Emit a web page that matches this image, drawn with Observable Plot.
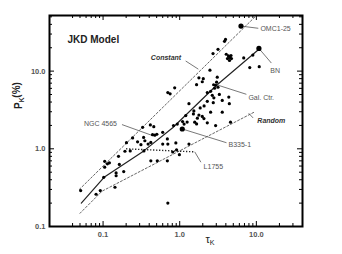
<!DOCTYPE html>
<html><head><meta charset="utf-8">
<script src="https://cdn.jsdelivr.net/npm/d3@7"></script>
<script src="https://cdn.jsdelivr.net/npm/@observablehq/plot@0.6"></script>
<style>body{margin:0;background:#fff;}</style>
</head><body><div id="chart"></div>
<script>
// Observed sources: optical depth tau_K and polarization P_K (%)
const tauValues = [0.051,0.081,0.092,0.143,0.102,0.148,0.148,0.105,0.114,0.105,0.121,0.163,0.159,0.186,0.193,0.202,0.243,0.282,0.328,0.338,0.351,0.312,0.387,0.414,0.459,0.442,0.473,0.503,0.42,0.341,0.42,0.51,0.60,0.60,0.70,0.69,0.69,0.70,0.83,0.93,0.89,0.81,0.91,0.99,1.09,1.25,1.20,1.32,1.32,1.14,0.70,0.75,0.86,0.226,
1.53,1.51,1.78,1.97,2.07,1.70,1.57,1.66,2.29,1.85,2.08,2.74,2.29,2.79,3.59,4.37,4.44,3.29,2.66,2.29,2.53,
2.94,3.03,2.85,3.16,2.77,
3.09,2.48,2.03,1.78,1.97,1.66,3.59,2.53,4.6,2.94,
3.96,3.84,3.16,2.72,4.05,
4.50,4.33,4.73,4.46,4.20,4.67,
6.84,9.0,8.2,10.9];
const pValues = [0.29,0.26,0.29,0.32,0.43,0.49,0.45,0.69,0.64,0.58,0.66,0.63,0.80,0.51,0.93,1.2,1.38,1.23,1.89,1.40,1.27,1.13,1.15,2.03,1.93,1.52,1.50,1.54,1.21,0.94,0.70,0.70,1.63,1.15,1.15,1.34,0.70,0.20,1.99,2.08,1.19,0.91,0.97,0.84,2.24,2.21,2.68,3.81,1.15,2.08,5.3,5.1,6.1,0.94,
3.07,2.81,2.72,2.61,2.45,2.48,2.20,2.09,2.16,3.36,3.56,3.92,4.08,4.53,4.20,4.64,3.81,5.02,4.88,5.29,5.50,
6.58,7.2,6.02,6.2,6.68,
8.36,10.3,8.0,8.2,7.3,6.7,2.96,2.96,2.2,1.99,
25.6,24.2,19.1,16.8,16.5,
15.0,15.7,14.5,13.7,14.5,15.9,
14.8,16.1,11.1,11.4];

// Named (highlighted) sources
const namedTau = [6.3, 10.8, 1.08];
const namedP = [38, 19.6, 1.80];

// JKD model curve
const modelTau = [0.052, 0.103, 0.34, 0.81, 3.03, 10.9];
const modelP = [0.20, 0.43, 0.94, 1.87, 6.58, 19.3];
// Constant-field limit
const constTau = [0.049, 10.0];
const constP = [0.30, 52];
// Random-field limit
const randTau = [0.050, 0.097, 9.7];
const randP = [0.148, 0.285, 3.02];
// L1755
const l1755Tau = [0.2, 1.57];
const l1755P = [1.0, 0.914];

// Annotation labels
const labelText = ["OMC1-25", "BN", "Gal. Ctr.", "B335-1", "L1755"];
const labelTau = [11.3, 15.2, 7.87, 4.33, 2.05];
const labelP = [35.1, 10.0, 4.6, 1.137, 0.589];
const italicText = ["Constant", "Random"];
const italicTau = [0.42, 10.3];
const italicP = [15.0, 2.28];
const endText = ["NGC 4565"];
const endTau = [0.152];
const endP = [2.09];
// Leader lines
const leadTau1 = [6.3, 10.8, 3.0, 7.94, 1.196, 0.1765, 1.08, 1.57];
const leadP1 = [38, 19.6, 6.7, 2.87, 13.5, 2.05, 1.80, 0.914];
const leadTau2 = [10.6, 15.7, 7.41, 9.06, 1.75, 0.446, 4.08, 1.89];
const leadP2 = [35.6, 12.7, 5.03, 2.50, 10.6, 1.475, 1.197, 0.672];

// Ticks
const tauMajor = [0.1, 1, 10];
const tauMinor = [0.04,0.05,0.06,0.07,0.08,0.09,0.2,0.3,0.4,0.5,0.6,0.7,0.8,0.9,2,3,4,5,6,7,8,9,20,30];
const pMajor = [0.1, 1, 10];
const pMinor = [0.2,0.3,0.4,0.5,0.6,0.7,0.8,0.9,2,3,4,5,6,7,8,9,20,30,40,50];

const W = 342, H = 254, mL = 49, mR = 40, mT = 15, mB = 28;
const fW = W - mL - mR, fH = H - mT - mB;

const dots = tauValues.map((t, i) => ({tau: t, p: pValues[i]}));
const named = namedTau.map((t, i) => ({tau: t, p: namedP[i]}));
const line = (ts, ps) => ts.map((t, i) => ({tau: t, p: ps[i]}));
const labels = labelText.map((s, i) => ({s, tau: labelTau[i], p: labelP[i]}));
const italics = italicText.map((s, i) => ({s, tau: italicTau[i], p: italicP[i]}));
const ends = endText.map((s, i) => ({s, tau: endTau[i], p: endP[i]}));
const leads = leadTau1.map((t, i) => ({x1: t, y1: leadP1[i], x2: leadTau2[i], y2: leadP2[i]}));

const font = "Liberation Sans, Arial, Helvetica, sans-serif";

const svg = Plot.plot({
  width: W, height: H,
  marginLeft: mL, marginRight: mR, marginTop: mT, marginBottom: mB,
  style: {fontFamily: font, background: "#fff", overflow: "visible"},
  x: {type: "log", domain: [0.02, 40]},
  y: {type: "log", domain: [0.1, 52]},
  marks: [
    Plot.axisX(tauMajor, {tickSize: 0, tickPadding: 5, tickFormat: d3.format(".1f"), fontSize: 7.5, fontWeight: "bold", color: "#555", label: null}),
    Plot.axisY(pMajor, {tickSize: 0, tickPadding: 4, tickFormat: d3.format(".1f"), fontSize: 7.5, fontWeight: "bold", color: "#555", label: null}),
    // inward ticks
    Plot.tickX(tauMajor, {x: d => d, insetTop: fH - 5, stroke: "#000"}),
    Plot.tickX(tauMinor, {x: d => d, insetTop: fH - 3, stroke: "#000"}),
    Plot.tickX(tauMajor, {x: d => d, insetBottom: fH - 5, stroke: "#000"}),
    Plot.tickX(tauMinor, {x: d => d, insetBottom: fH - 3, stroke: "#000"}),
    Plot.tickY(pMajor, {y: d => d, insetRight: fW - 5, stroke: "#000"}),
    Plot.tickY(pMinor, {y: d => d, insetRight: fW - 3, stroke: "#000"}),
    Plot.tickY(pMajor, {y: d => d, insetLeft: fW - 5, stroke: "#000"}),
    Plot.tickY(pMinor, {y: d => d, insetLeft: fW - 3, stroke: "#000"}),
    // model lines
    Plot.line(line(constTau, constP), {x: "tau", y: "p", stroke: "#555", strokeWidth: 0.9, strokeDasharray: "2,2"}),
    Plot.line(line(randTau, randP), {x: "tau", y: "p", stroke: "#555", strokeWidth: 0.9, strokeDasharray: "2,2"}),
    Plot.line(line(modelTau, modelP), {x: "tau", y: "p", stroke: "#222", strokeWidth: 1.2}),
    Plot.line(line(l1755Tau, l1755P), {x: "tau", y: "p", stroke: "#111", strokeWidth: 1.4, strokeDasharray: "1.2,1.8", strokeLinecap: "butt"}),
    // leader lines
    Plot.link(leads, {x1: "x1", y1: "y1", x2: "x2", y2: "y2", stroke: "#555", strokeWidth: 0.8}),
    // data points
    Plot.dot(dots, {x: "tau", y: "p", r: 1.6, fill: "#000"}),
    Plot.dot(named, {x: "tau", y: "p", r: 2.6, fill: "#000"}),
    // labels
    Plot.text(labels, {x: "tau", y: "p", text: "s", textAnchor: "start", fontSize: 7, fill: "#555"}),
    Plot.text(ends, {x: "tau", y: "p", text: "s", textAnchor: "end", fontSize: 7, fill: "#555"}),
    Plot.text(italics, {x: "tau", y: "p", text: "s", textAnchor: "start", fontSize: 7, fontWeight: "bold", fontStyle: "italic", fill: "#333"}),
    Plot.text(["JKD Model"], {frameAnchor: "top-left", dx: 18, dy: 20.5, textAnchor: "start", fontSize: 10, fontWeight: "bold", fill: "#222"}),
    Plot.text(["PK(%)"], {frameAnchor: "left", dx: -31, dy: -12, rotate: -90, fontSize: 10, fontWeight: "bold", fill: "#222"}),
    Plot.text(["τK"], {frameAnchor: "bottom", dx: 34, dy: 16, fontSize: 11, fill: "#222"}),
    Plot.frame({stroke: "#000", strokeWidth: 2})
  ]
});

// subscripts
d3.select(svg).selectAll("text").each(function() {
  const t = this.textContent;
  if (t === "PK(%)" || t === "τK") {
    const sel = d3.select(this);
    sel.text(null);
    sel.append("tspan").text(t[0]);
    sel.append("tspan").attr("font-size", "0.65em").attr("dy", "0.35em").text("K");
    if (t === "PK(%)") sel.append("tspan").attr("dy", "-0.35em").text("(%)");
  }
});

document.getElementById("chart").appendChild(svg);
</script></body></html>
